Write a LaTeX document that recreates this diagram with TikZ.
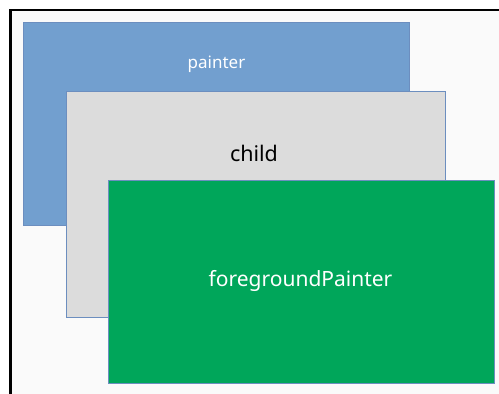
\documentclass[tikz,border=0pt]{standalone}
\usepackage{fontspec}
\setmainfont{Noto Sans}
\begin{document}
\begin{tikzpicture}[x=1pt,y=-1pt,
  layer/.style={draw=edgeblue,line width=0.8pt},
  lbl/.style={font=\fontsize{21}{24}\selectfont}]
\definecolor{edgeblue}{HTML}{6C8EBF}
\definecolor{paintblue}{HTML}{729FCF}
\definecolor{childgray}{HTML}{DCDCDC}
\definecolor{fggreen}{HTML}{00A65A}
\definecolor{bggray}{HTML}{FAFAFA}
\useasboundingbox (0,0) rectangle (499,394);
\fill[white] (0,0) rectangle (499,394);
\filldraw[fill=bggray,draw=black,line width=2.5pt] (10.5,10) rectangle (520,420);
\node[layer,fill=paintblue,minimum width=386pt,minimum height=203pt,anchor=north west,inner sep=0pt] (painter) at (23,22) {};
\node[text=white,font=\fontsize{17}{20}\selectfont] (painterlbl) at (216.5,64) {painter};
\node[layer,fill=childgray,minimum width=379pt,minimum height=226pt,anchor=north west,inner sep=0pt] (child) at (66,91) {};
\node[lbl,text=black,font=\fontsize{21.5}{24}\selectfont] (childlbl) at (254,153) {child};
\node[layer,fill=fggreen,minimum width=386pt,minimum height=203pt,anchor=north west,inner sep=0pt] (fg) at (108,180) {};
\node[lbl,text=white] (fglbl) at (300.5,281) {foregroundPainter};
\end{tikzpicture}
\end{document}
